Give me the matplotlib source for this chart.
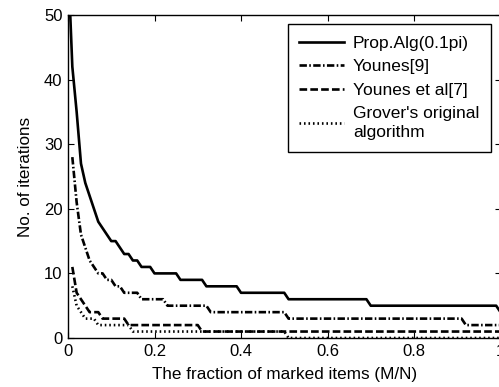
import matplotlib
matplotlib.use("Agg")
import matplotlib.pyplot as plt

plt.rcParams['font.family'] = ['Liberation Sans', 'DejaVu Sans']
plt.rcParams['font.size'] = 12

# step curves (x = M/N, y = no. of iterations)
prop_x = [0.004, 0.01, 0.02, 0.03, 0.04, 0.05, 0.06, 0.07, 0.08, 0.09, 0.10, 0.11,
          0.12, 0.13, 0.14, 0.15, 0.16, 0.17, 0.19, 0.20, 0.25, 0.26, 0.31, 0.32,
          0.39, 0.40, 0.50, 0.51, 0.69, 0.70, 0.99, 1.00]
prop_y = [52, 42, 35, 27, 24, 22, 20, 18, 17, 16, 15, 15,
          14, 13, 13, 12, 12, 11, 11, 10, 10, 9, 9, 8,
          8, 7, 7, 6, 6, 5, 5, 4]

younes9_x = [0.01, 0.02, 0.03, 0.04, 0.05, 0.06, 0.07, 0.08, 0.09, 0.10, 0.11, 0.12,
             0.13, 0.16, 0.17, 0.22, 0.23, 0.32, 0.33, 0.50, 0.51, 0.91, 0.92, 1.00]
younes9_y = [28, 21, 16, 14, 12, 11, 10, 10, 9, 9, 8, 8,
             7, 7, 6, 6, 5, 5, 4, 4, 3, 3, 2, 2]

younes7_x = [0.01, 0.02, 0.03, 0.04, 0.05, 0.07, 0.08, 0.13, 0.14, 0.30, 0.31, 1.00]
younes7_y = [11, 7, 6, 5, 4, 4, 3, 3, 2, 2, 1, 1]

grover_x = [0.01, 0.02, 0.03, 0.04, 0.06, 0.07, 0.14, 0.15, 0.50, 0.51, 1.00]
grover_y = [8, 5, 4, 3, 3, 2, 2, 1, 1, 0, 0]

labels = ["Prop.Alg(0.1pi)", "Younes[9]", "Younes et al[7]",
          "Grover's original\nalgorithm"]

fig = plt.figure(figsize=(4.99, 3.87), dpi=100)
ax = fig.add_axes([68 / 499, 49 / 387, 432.5 / 499, 323 / 387])

lw = 1.9
ax.plot(prop_x, prop_y, color="k", lw=lw, ls="-", label=labels[0])
ax.plot(younes9_x, younes9_y, color="k", lw=lw,
        ls=(0, (2.8, 0.9, 0.6, 0.9)), label=labels[1])
ax.plot(younes7_x, younes7_y, color="k", lw=lw,
        ls=(0, (2.9, 1.2)), label=labels[2])
ax.plot(grover_x, grover_y, color="k", lw=lw,
        ls=(0, (0.6, 1.1)), label=labels[3])

ax.set_xlim(0, 1)
ax.set_ylim(0, 50)
ax.set_xticks([0, 0.2, 0.4, 0.6, 0.8, 1.0])
ax.set_xticklabels(["0", "0.2", "0.4", "0.6", "0.8", "1"])
ax.set_yticks([0, 10, 20, 30, 40, 50])
ax.tick_params(direction="in", top=True, right=True, length=4, width=0.8,
               pad=4, labelsize=12)
for s in ax.spines.values():
    s.set_linewidth(1.0)

ax.set_xlabel("The fraction of marked items (M/N)", fontsize=12.3, labelpad=6)
ax.set_ylabel("No. of iterations", fontsize=12.3, labelpad=8)

leg = ax.legend(loc="upper right", bbox_to_anchor=(490.7 / 499, 1 - 24.3 / 387),
                bbox_transform=fig.transFigure, borderaxespad=0,
                fancybox=False, framealpha=1, edgecolor="k",
                handlelength=2.6, handletextpad=0.5, labelspacing=0.48,
                borderpad=0.65, fontsize=12.5)
leg.get_frame().set_linewidth(1.0)
for t in leg.get_texts():
    t.set_linespacing(1.35)

fig.savefig("out.png", dpi=100)
